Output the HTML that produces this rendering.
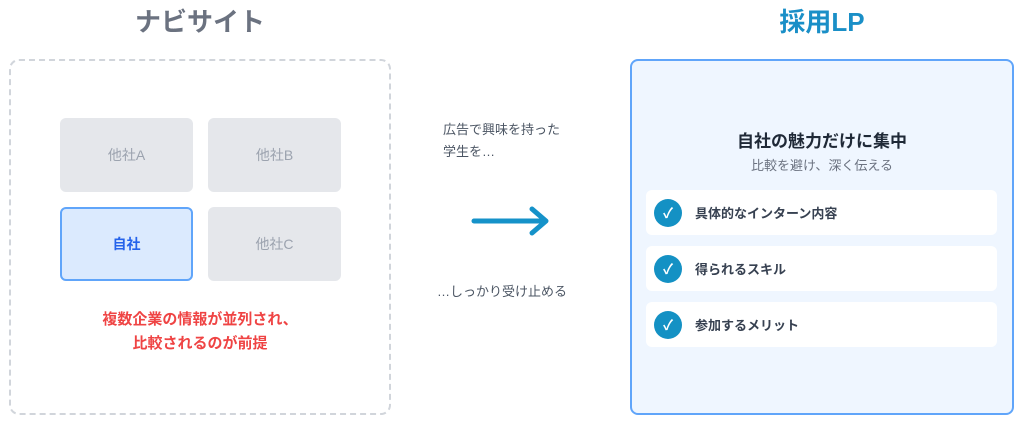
<!DOCTYPE html>
<html><head><meta charset="utf-8"><style>
*{margin:0;padding:0;box-sizing:border-box}
body{width:1024px;height:424px;background:#fff;position:relative;overflow:hidden;font-family:"Liberation Sans","Noto Sans CJK JP",sans-serif}
.a{position:absolute}
.h{font-size:26px;font-weight:bold;text-align:center;line-height:30px}
.card{position:absolute;width:133px;height:74px;background:#e5e7eb;border-radius:6px;color:#9ca3af;font-size:14px;display:flex;align-items:center;justify-content:center}
.item{position:absolute;left:646px;width:351px;height:45px;background:#fff;border-radius:6px;font-size:13px;font-weight:bold;color:#374151;display:flex;align-items:center}
.ck{width:28px;height:28px;border-radius:50%;background:#1491c4;color:#fff;font-size:14px;display:flex;align-items:center;justify-content:center;margin:0 13px 0 8px}
.mid{font-size:13px;color:#4b5563;line-height:22px}
</style></head><body>
<div class="a h" style="left:50px;width:300px;top:7px;color:#6b7280">ナビサイト</div>
<div class="a h" style="left:672px;width:300px;top:7px;color:#1a8fc7">採用LP</div>
<div class="a" style="left:9px;top:59px;width:382px;height:356px;border:2px dashed #d1d5db;border-radius:10px"></div>
<div class="card" style="left:60px;top:118px">他社A</div>
<div class="card" style="left:208px;top:118px">他社B</div>
<div class="card" style="left:60px;top:207px;background:#dbeafe;border:2px solid #60a5fa;color:#2563eb;font-weight:bold">自社</div>
<div class="card" style="left:208px;top:207px">他社C</div>
<div class="a" style="left:50px;width:300px;top:308px;text-align:center;color:#ef4444;font-weight:bold;font-size:15px;line-height:24px">複数企業の情報が並列され、<br>比較されるのが前提</div>
<div class="a mid" style="left:443px;top:119px">広告で興味を持った<br>学生を…</div>
<svg class="a" style="left:470px;top:205px" width="84" height="32"><line x1="4" y1="16" x2="74" y2="16" stroke="#1592c9" stroke-width="5" stroke-linecap="round"/><polyline points="62,4 76,16 62,28" fill="none" stroke="#1592c9" stroke-width="5" stroke-linecap="round" stroke-linejoin="round"/></svg>
<div class="a mid" style="left:437px;top:281px">…しっかり受け止める</div>
<div class="a" style="left:630px;top:59px;width:384px;height:356px;border:2px solid #60a5fa;border-radius:8px;background:#eff6ff"></div>
<div class="a" style="left:630px;width:384px;top:130px;text-align:center;font-size:17px;font-weight:bold;color:#1f2937;line-height:24px">自社の魅力だけに集中</div>
<div class="a" style="left:630px;width:384px;top:156px;text-align:center;font-size:13px;color:#6b7280;line-height:20px">比較を避け、深く伝える</div>
<div class="item" style="top:190px"><div class="ck">✓</div>具体的なインターン内容</div>
<div class="item" style="top:246px"><div class="ck">✓</div>得られるスキル</div>
<div class="item" style="top:302px"><div class="ck">✓</div>参加するメリット</div>
</body></html>
